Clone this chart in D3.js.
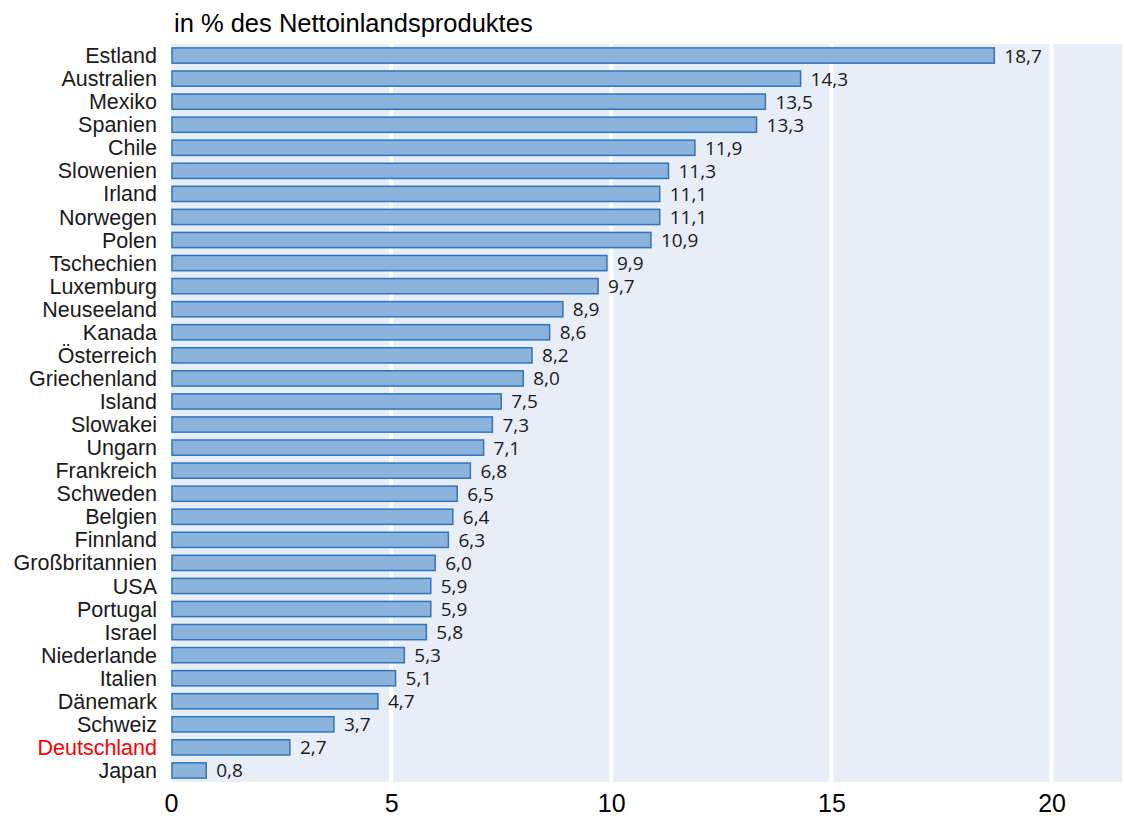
<!DOCTYPE html>
<html>
<head>
<meta charset="utf-8">
<script src="https://cdn.jsdelivr.net/npm/d3@7"></script>
<style>
  body { margin: 0; background: #fff; }
  svg { display: block; }
</style>
</head>
<body>
<svg id="chart" width="1124" height="816"></svg>
<script>
const countries = ['Estland', 'Australien', 'Mexiko', 'Spanien', 'Chile', 'Slowenien', 'Irland',
  'Norwegen', 'Polen', 'Tschechien', 'Luxemburg', 'Neuseeland', 'Kanada', 'Österreich',
  'Griechenland', 'Island', 'Slowakei', 'Ungarn', 'Frankreich', 'Schweden', 'Belgien',
  'Finnland', 'Großbritannien', 'USA', 'Portugal', 'Israel', 'Niederlande', 'Italien',
  'Dänemark', 'Schweiz', 'Deutschland', 'Japan'];
const values = [18.7, 14.3, 13.5, 13.3, 11.9, 11.3, 11.1, 11.1, 10.9, 9.9, 9.7, 8.9, 8.6, 8.2,
  8.0, 7.5, 7.3, 7.1, 6.8, 6.5, 6.4, 6.3, 6.0, 5.9, 5.9, 5.8, 5.3, 5.1, 4.7, 3.7, 2.7, 0.8];
const xTicks = [0, 5, 10, 15, 20];
const title = 'in % des Nettoinlandsproduktes';
const highlight = 'Deutschland';

const data = countries.map((c, i) => ({ name: c, value: values[i] }));

const margin = { top: 44, right: 2, bottom: 34, left: 171 };
const totalWidth = 1124;
const totalHeight = 816;
const width = totalWidth - margin.left - margin.right;
const height = totalHeight - margin.top - margin.bottom;

const svg = d3.select('#chart');
const g = svg.append('g').attr('transform', `translate(${margin.left}, ${margin.top})`);

const x = d3.scaleLinear([0, 21.6], [0, width]);
const y = d3.scaleBand(countries, [0, height]).paddingInner(0.34).paddingOuter(0.17);

/* plot background */
g.append('rect')
  .attr('x', 0).attr('y', 0)
  .attr('width', width).attr('height', height)
  .attr('fill', '#e8eef8');

/* grid lines */
g.selectAll('.grid')
  .data(xTicks.filter(d => d > 0))
  .enter()
  .append('line')
  .attr('x1', d => x(d)).attr('x2', d => x(d))
  .attr('y1', 0).attr('y2', height)
  .attr('stroke', '#fff')
  .attr('stroke-width', 4);

/* bars */
g.selectAll('.bar')
  .data(data)
  .enter()
  .append('rect')
  .attr('x', x(0) + 1)
  .attr('y', d => y(d.name))
  .attr('width', d => x(d.value) - x(0) - 1)
  .attr('height', y.bandwidth())
  .attr('fill', '#8cb3dc')
  .attr('stroke', '#2f74bf')
  .attr('stroke-width', 1.5);

/* value labels */
g.selectAll('.val')
  .data(data)
  .enter()
  .append('text')
  .attr('x', d => x(d.value) + 10)
  .attr('y', d => y(d.name) + y.bandwidth() / 2)
  .attr('dy', '0.37em')
  .attr('font-family', 'Open Sans, sans-serif')
  .attr('font-size', 19)
  .attr('fill', '#1a1a1a')
  .text(d => d3.format('.1f')(d.value).replace('.', ','));

/* left axis */
const leftAxis = d3.axisLeft(y).tickSize(0).tickPadding(14);
const la = g.append('g').call(leftAxis);
la.select('.domain').remove();
la.selectAll('text')
  .attr('font-family', 'Liberation Sans, Arial, sans-serif')
  .attr('font-size', 21.5)
  .attr('dy', '0.35em')
  .attr('fill', d => d === highlight ? '#ff0000' : '#1a1a1a');

/* bottom axis */
const bottomAxis = d3.axisBottom(x).tickValues(xTicks).tickSize(0).tickPadding(12);
const ba = g.append('g').attr('transform', `translate(0, ${height})`).call(bottomAxis);
ba.select('.domain').remove();
ba.selectAll('text')
  .attr('font-family', 'Liberation Sans, Arial, sans-serif')
  .attr('font-size', 25)
  .attr('fill', '#000');

/* title */
svg.append('text')
  .attr('x', 174)
  .attr('y', 32)
  .attr('font-family', 'Liberation Sans, Arial, sans-serif')
  .attr('font-size', 25.5)
  .attr('fill', '#000')
  .text(title);
</script>
</body>
</html>
